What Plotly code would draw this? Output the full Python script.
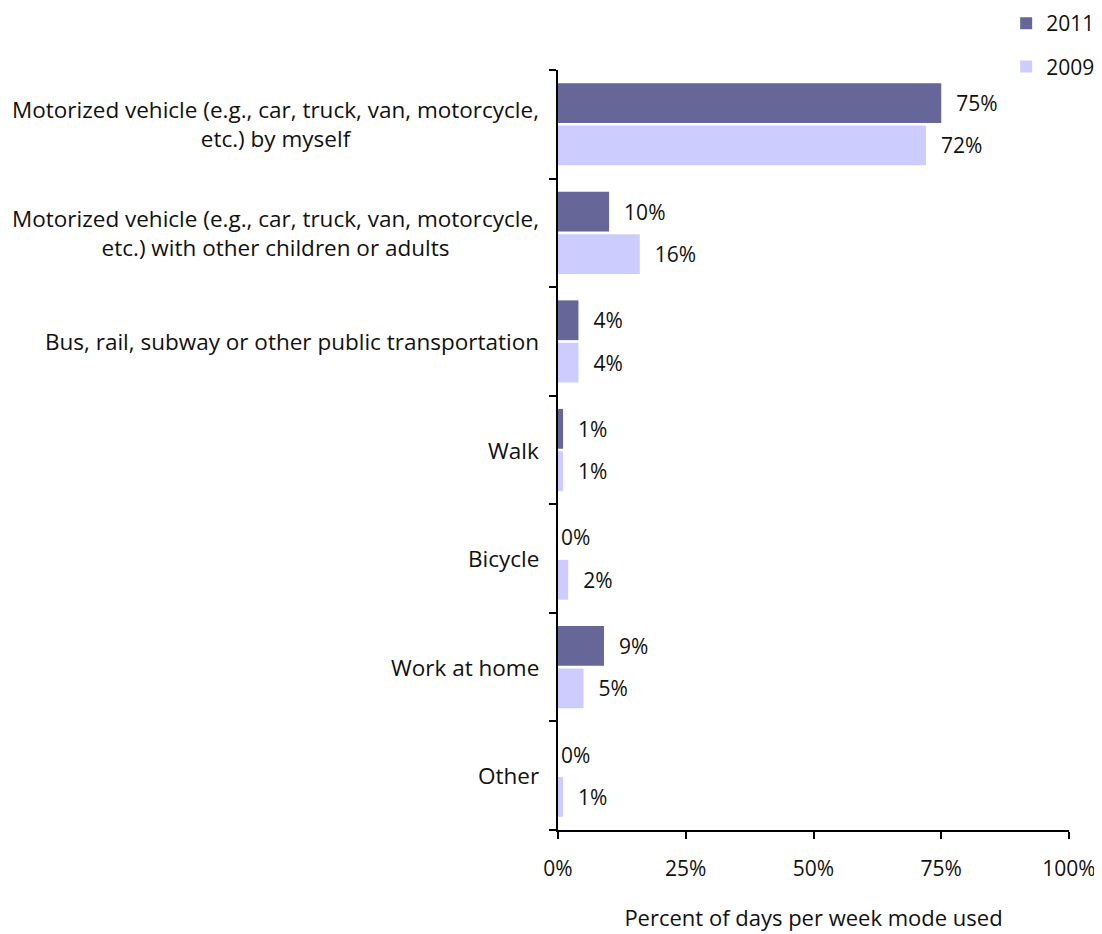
import plotly.graph_objects as go

# ── Data ──────────────────────────────────────────────────────────────────────
categories = [
    "Motorized vehicle (e.g., car, truck, van, motorcycle,<br>etc.) by myself",
    "Motorized vehicle (e.g., car, truck, van, motorcycle,<br>etc.) with other children or adults",
    "Bus, rail, subway or other public transportation",
    "Walk",
    "Bicycle",
    "Work at home",
    "Other",
]
values_2011 = [75, 10, 4, 1, 0, 9, 0]
values_2009 = [72, 16, 4, 1, 2, 5, 1]

x_ticks = [0, 25, 50, 75, 100]
x_tick_labels = ["0%", "25%", "50%", "75%", "100%"]

FONT = "Open Sans"
C_2011 = "#666699"
C_2009 = "#CCCCFF"


def _label(v):
    # non-zero labels sit a little further off the bar end
    return f"\u2007{v}%" if v > 0 else f"{v}%"


fig = go.Figure()

for name, vals, color in [("2011", values_2011, C_2011),
                          ("2009", values_2009, C_2009)]:
    fig.add_trace(go.Bar(
        y=list(range(len(categories))),
        x=vals,
        name=name,
        legendgroup=name,
        orientation="h",
        marker=dict(color=color, line=dict(width=0)),
        text=[_label(v) for v in vals],
        textposition="outside",
        textfont=dict(size=21, color="#111111", family=FONT),
        cliponaxis=False,
    ))

# category labels as annotations so wrapped lines are centred
for i, cat in enumerate(categories):
    fig.add_annotation(
        x=0, xref="paper", xshift=-17, xanchor="right",
        y=i, yref="y", yanchor="middle",
        text=cat, align="center", showarrow=False,
        font=dict(size=22.5, color="#111111", family=FONT),
    )

# page body adds an 8px offset, so the figure is 8px smaller each way
fig.update_layout(
    width=1094, height=926,
    margin=dict(l=550, r=33, t=62, b=104, autoexpand=False),
    paper_bgcolor="white", plot_bgcolor="white",
    font=dict(family=FONT, size=21, color="#111111"),
    barmode="group",
    bargap=0.22,
    bargroupgap=0.06,
    showlegend=True,
    legend=dict(
        x=1.061, xanchor="right", y=1.088, yanchor="top",
        orientation="v", traceorder="grouped", tracegroupgap=13,
        font=dict(size=21, family=FONT),
        itemwidth=30,
    ),
)

fig.update_xaxes(
    range=[0, 100],
    tickvals=x_ticks, ticktext=x_tick_labels,
    showgrid=False, zeroline=False,
    showline=True, linecolor="black", linewidth=2,
    ticks="outside", ticklen=7, tickwidth=2, tickcolor="black",
    ticklabelstandoff=12,
    title=dict(text="Percent of days per week mode used", standoff=29,
               font=dict(size=22)),
)
fig.update_yaxes(
    range=[len(categories) - 0.5, -0.5],
    tickvals=[i - 0.5 for i in range(len(categories) + 1)],
    showticklabels=False,
    showgrid=False, zeroline=False,
    showline=True, linecolor="black", linewidth=2,
    ticks="outside", ticklen=7, tickwidth=2, tickcolor="black",
)

fig.write_html("out.html")
